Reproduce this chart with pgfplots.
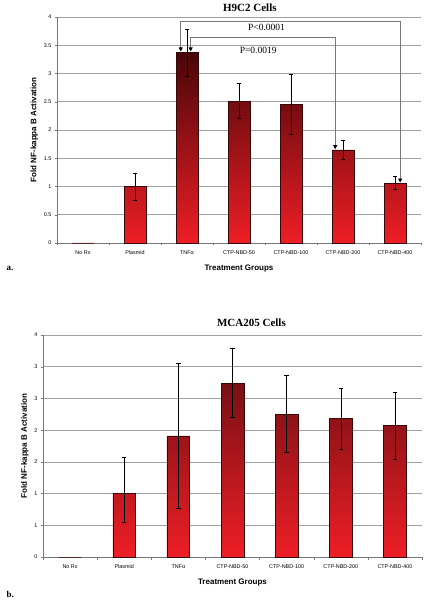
\documentclass[border=0pt]{standalone}
\usepackage{pgfplots}
\pgfplotsset{compat=1.18}
\usetikzlibrary{arrows.meta}
\usepackage{fontspec}
\setmainfont{Liberation Serif}
\setsansfont{Liberation Sans}
\definecolor{bartop}{RGB}{72,6,8}
\definecolor{bartopb}{RGB}{120,16,20}
\definecolor{barbot}{RGB}{238,30,38}
\definecolor{barline}{RGB}{55,8,8}
\definecolor{gridc}{RGB}{160,160,160}
\definecolor{axc}{RGB}{120,120,120}
\pgfplotsset{
  panel/.style={
    scale only axis,
    axis x line=bottom, axis y line=left,
    axis line style={axc, -},
    xmin=-0.5, xmax=6.5, ymin=0,
    xtick={0,...,6},
    xticklabels={No Rx,Plasmid,{TNFα},CTP-NBD-50,CTP-NBD-100,CTP-NBD-200,CTP-NBD-400},
    major x tick style={draw=none},
    minor xtick={-0.5,0.5,...,6.5},
    minor tick length=2.5pt,
    minor x tick style={axc},
    tick align=outside,
    major tick length=2pt,
    y tick style={axc},
    ymajorgrids, grid style={gridc, line width=0.6pt},
    /pgf/number format/assume math mode=true,
    tick label style={font=\sffamily\fontsize{5.4}{6}\selectfont, black},
    xticklabel style={yshift=-2.5pt},
    xlabel={Treatment Groups},
    ylabel={Fold NF-kappa B Activation},
    label style={font=\sffamily\bfseries\fontsize{8}{9}\selectfont},
    title style={font=\bfseries\fontsize{11}{12}\selectfont},
    ybar, bar width=0.42, bar shift=0pt,
    clip=false,
  }
}
\begin{document}
\begin{tikzpicture}[x=1pt,y=1pt]
\useasboundingbox (0,0) rectangle (425,600);
% Panel a
\begin{axis}[panel,
  at={(57pt,357pt)}, anchor=south west,
  width=364pt, height=226pt,
  ymax=4, ytick={0,0.5,...,4},
  yticklabels={0,0.5,1,1.5,2,2.5,3,3.5,4},
  title={H9C2 Cells},
  title style={at={(0.53,1)}, yshift=-4pt},
  xlabel style={yshift=-3pt},
  ylabel style={yshift=-1pt},
]
\addplot[draw=barline, line width=0.5pt, top color=bartop, bottom color=barbot]
  coordinates {(0,0) (1,1.00) (2,3.38) (3,2.51) (4,2.45) (5,1.65) (6,1.06)};
\addplot[draw=none, fill=none, forget plot,
  error bars/.cd, y dir=both, y explicit,
  error bar style={draw=black, line width=0.5pt},
  error mark options={rotate=90, mark size=2.2pt, draw=black, line width=0.5pt}]
  coordinates {
   (1,1.00) += (0,0.24) -= (0,0.24)
   (2,3.38) += (0,0.41) -= (0,0.43)
   (3,2.51) += (0,0.31) -= (0,0.30)
   (4,2.45) += (0,0.53) -= (0,0.53)
   (5,1.65) += (0,0.17) -= (0,0.17)
   (6,1.06) += (0,0.12) -= (0,0.11)
  };
\draw[draw=axc, line width=0.8pt, -{Triangle[black,length=4pt,width=4pt]}]
  (axis cs:6.1,3.93) -- (axis cs:1.88,3.93) -- (axis cs:1.88,3.39);
\draw[draw=axc, line width=0.8pt, -{Triangle[black,length=4pt,width=4pt]}]
  (axis cs:1.88,3.93) -- (axis cs:6.1,3.93) -- (axis cs:6.1,1.07);
\draw[draw=axc, line width=0.8pt, -{Triangle[black,length=4pt,width=4pt]}]
  (axis cs:4.85,3.64) -- (axis cs:2.07,3.64) -- (axis cs:2.07,3.39);
\draw[draw=axc, line width=0.8pt, -{Triangle[black,length=4pt,width=4pt]}]
  (axis cs:2.07,3.64) -- (axis cs:4.85,3.64) -- (axis cs:4.85,1.66);
\node[font=\fontsize{9.5}{10}\selectfont] at (axis cs:3.53,3.82) {P<0.0001};
\node[font=\fontsize{9.5}{10}\selectfont] at (axis cs:3.37,3.40) {P=0.0019};
\end{axis}
\node[font=\bfseries\fontsize{9}{10}\selectfont, anchor=west] at (3pt,332pt) {a.};
% Panel b
\begin{axis}[panel,
  at={(43pt,43pt)}, anchor=south west,
  width=379pt, height=222pt,
  ymax=3.5, ytick={0,0.5,...,3.5},
  yticklabels={0,1,1,2,2,3,3,4},
  title={MCA205 Cells},
  title style={at={(0.55,1)}, yshift=-1pt},
  xlabel style={yshift=-3pt},
  ylabel style={yshift=-1pt},
]
\addplot[draw=barline, line width=0.5pt, top color=bartopb, bottom color=barbot]
  coordinates {(0,0) (1,1.00) (2,1.91) (3,2.74) (4,2.25) (5,2.18) (6,2.07)};
\addplot[draw=none, fill=none, forget plot,
  error bars/.cd, y dir=both, y explicit,
  error bar style={draw=black, line width=0.5pt},
  error mark options={rotate=90, mark size=2.2pt, draw=black, line width=0.5pt}]
  coordinates {
   (1,1.00) += (0,0.58) -= (0,0.45)
   (2,1.91) += (0,1.14) -= (0,1.14)
   (3,2.74) += (0,0.55) -= (0,0.54)
   (4,2.25) += (0,0.61) -= (0,0.60)
   (5,2.18) += (0,0.48) -= (0,0.48)
   (6,2.07) += (0,0.53) -= (0,0.53)
  };
\end{axis}
\node[font=\bfseries\fontsize{9}{10}\selectfont, anchor=west] at (3pt,6pt) {b.};
\end{tikzpicture}
\end{document}
